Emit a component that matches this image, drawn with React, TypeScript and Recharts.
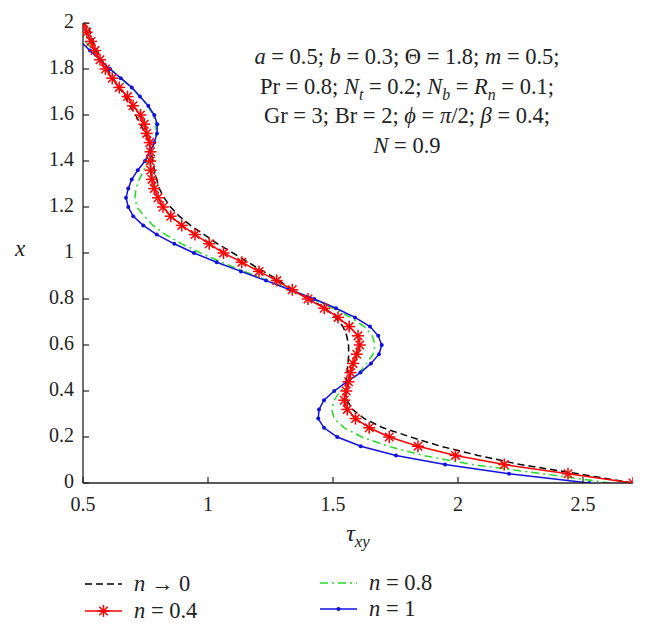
import React from "react";
import { LineChart, Line, XAxis, YAxis } from "recharts";

// vertical coordinate x (0 .. 2), one point every 0.04
const xLevels = [
  0, 0.04, 0.08, 0.12, 0.16, 0.2, 0.24, 0.28, 0.32, 0.36, 0.4, 0.44, 0.48,
  0.52, 0.56, 0.6, 0.64, 0.68, 0.72, 0.76, 0.8, 0.84, 0.88, 0.92, 0.96, 1,
  1.04, 1.08, 1.12, 1.16, 1.2, 1.24, 1.28, 1.32, 1.36, 1.4, 1.44, 1.48, 1.52,
  1.56, 1.6, 1.64, 1.68, 1.72, 1.76, 1.8, 1.84, 1.88, 1.92, 1.96, 2,
];

// tau_xy for each n
const tauN0 = [
  2.7, 2.48, 2.25, 2.08, 1.93, 1.81, 1.7, 1.625, 1.578, 1.556, 1.55, 1.553,
  1.556, 1.56, 1.563, 1.562, 1.555, 1.54, 1.51, 1.47, 1.405, 1.335, 1.285,
  1.222, 1.16, 1.1, 1.038, 0.985, 0.93, 0.885, 0.85, 0.825, 0.805, 0.795,
  0.785, 0.78, 0.772, 0.762, 0.748, 0.73, 0.71, 0.688, 0.668, 0.645, 0.62,
  0.597, 0.575, 0.556, 0.54, 0.528, 0.52,
];
const tauN04 = [
  2.7, 2.44, 2.185, 1.99, 1.84, 1.725, 1.645, 1.59, 1.557, 1.545, 1.553,
  1.562, 1.57, 1.58, 1.595, 1.607, 1.6, 1.565, 1.52, 1.465, 1.4, 1.337,
  1.275, 1.204, 1.135, 1.062, 1.005, 0.948, 0.895, 0.851, 0.82, 0.8, 0.785,
  0.776, 0.771, 0.769, 0.77, 0.767, 0.755, 0.745, 0.73, 0.7, 0.678, 0.645,
  0.617, 0.59, 0.568, 0.548, 0.532, 0.515, 0.503,
];
const tauN08 = [
  2.61, 2.34, 2.06, 1.86, 1.72, 1.615, 1.545, 1.505, 1.495, 1.505, 1.53,
  1.565, 1.605, 1.635, 1.66, 1.668, 1.657, 1.625, 1.57, 1.5, 1.42, 1.33,
  1.24, 1.145, 1.055, 0.97, 0.895, 0.83, 0.78, 0.745, 0.715, 0.708, 0.712,
  0.725, 0.743, 0.76, 0.775, 0.785, 0.792, 0.792, 0.78, 0.758, 0.726, 0.693,
  0.65, 0.61, 0.57, 0.54, 0.51, 0.49, 0.47,
];
const tauN1 = [
  2.525, 2.204, 1.948, 1.752, 1.611, 1.517, 1.464, 1.441, 1.444, 1.464,
  1.505, 1.555, 1.61, 1.652, 1.684, 1.695, 1.681, 1.648, 1.588, 1.512, 1.425,
  1.328, 1.232, 1.132, 1.035, 0.944, 0.865, 0.795, 0.741, 0.701, 0.681,
  0.672, 0.681, 0.695, 0.719, 0.748, 0.768, 0.785, 0.796, 0.797, 0.785,
  0.761, 0.728, 0.695, 0.651, 0.608, 0.568, 0.528, 0.49, 0.455, 0.42,
];

const tauTicks = [0.5, 1, 1.5, 2, 2.5];
const xTicks = [0, 0.2, 0.4, 0.6, 0.8, 1, 1.2, 1.4, 1.6, 1.8, 2];

const FONT = "'Liberation Serif', 'Times New Roman', serif";
const AXIS = "#222";

const toPoints = (taus: number[]) => taus.map((t, i) => ({ tau: t, x: xLevels[i] }));

const StarDot = (props: any) => {
  const { cx, cy, index } = props;
  if (cx == null || cy == null) return <g key={index} />;
  const r = 6;
  const d = r * 0.707;
  return (
    <g key={index} stroke="#ff0000" strokeWidth={1.5}>
      <line x1={cx - r} y1={cy} x2={cx + r} y2={cy} />
      <line x1={cx} y1={cy - r} x2={cx} y2={cy + r} />
      <line x1={cx - d} y1={cy - d} x2={cx + d} y2={cy + d} />
      <line x1={cx - d} y1={cy + d} x2={cx + d} y2={cy - d} />
    </g>
  );
};

const BlueDot = (props: any) => {
  const { cx, cy, index } = props;
  if (cx == null || cy == null) return <g key={index} />;
  return <circle key={index} cx={cx} cy={cy} r={2} fill="#1010e0" stroke="none" />;
};

const series = [
  { key: "n0", data: toPoints(tauN0), color: "#000000", dash: "7 4", dot: false as any, label: <><i>n</i> → 0</> },
  { key: "n08", data: toPoints(tauN08), color: "#22dd22", dash: "8 4 2 4", dot: false as any, label: <><i>n</i> = 0.8</> },
  { key: "n1", data: toPoints(tauN1), color: "#1010e0", dash: undefined, dot: BlueDot as any, label: <><i>n</i> = 1</> },
  { key: "n04", data: toPoints(tauN04), color: "#ff0000", dash: undefined, dot: StarDot as any, label: <><i>n</i> = 0.4</> },
];

const BottomTick = ({ x, y, payload }: any) => (
  <g>
    <line x1={x} x2={x} y1={y} y2={y - 6} stroke={AXIS} strokeWidth={1.2} />
    <text x={x} y={y + 27.5} textAnchor="middle" fontFamily={FONT} fontSize={20} fill="#222">
      {payload.value}
    </text>
  </g>
);
const TopTick = ({ x, y }: any) => (
  <line x1={x} x2={x} y1={y} y2={y + 6} stroke={AXIS} strokeWidth={1.2} />
);
const LeftTick = ({ x, y, payload }: any) => (
  <g>
    <line x1={x} x2={x + 6} y1={y} y2={y} stroke={AXIS} strokeWidth={1.2} />
    <text x={x - 9} y={y + 5} textAnchor="end" fontFamily={FONT} fontSize={20} fill="#222">
      {payload.value}
    </text>
  </g>
);
const RightTick = ({ x, y }: any) => (
  <line x1={x} x2={x - 6} y1={y} y2={y} stroke={AXIS} strokeWidth={1.2} />
);

const Swatch = ({ s }: any) => (
  <svg width={38} height={10} style={{ overflow: "visible", marginRight: 11 }}>
    <line x1={0} x2={37} y1={5} y2={5} stroke={s.color} strokeWidth={1.5} strokeDasharray={s.dash} />
    {s.key === "n04" && <StarDot cx={18.5} cy={5} index={0} />}
    {s.key === "n1" && <BlueDot cx={18.5} cy={5} index={0} />}
  </svg>
);

const legendPos: Record<string, { left: number; top: number }> = {
  n0: { left: 85, top: 571 },
  n04: { left: 85, top: 598 },
  n08: { left: 320, top: 570 },
  n1: { left: 320, top: 596 },
};

const subStyle: React.CSSProperties = { fontSize: "0.7em", verticalAlign: "-0.35em", lineHeight: 0 };

export default function App() {
  return (
    <div style={{ position: "relative", width: 647, height: 630, background: "#fff", overflow: "hidden", fontFamily: FONT, color: "#222" }}>
      <style>{`body{margin:0}`}</style>
      <LineChart width={647} height={630} margin={{ top: 23, right: 14, bottom: 117, left: 23 }}>
        <XAxis xAxisId="b" type="number" dataKey="tau" domain={[0.5, 2.7]} allowDataOverflow ticks={tauTicks}
          height={30} tickSize={0} tickMargin={0} tick={<BottomTick />} axisLine={{ stroke: AXIS, strokeWidth: 1.3 }} tickLine={false} />
        <XAxis xAxisId="t" orientation="top" type="number" dataKey="tau" domain={[0.5, 2.7]} allowDataOverflow ticks={tauTicks}
          height={0} tickSize={0} tickMargin={0} tick={<TopTick />} axisLine={{ stroke: AXIS, strokeWidth: 1.3 }} tickLine={false} />
        <YAxis yAxisId="l" type="number" domain={[0, 2]} allowDataOverflow ticks={xTicks}
          width={60} tickSize={0} tickMargin={0} tick={<LeftTick />} axisLine={{ stroke: AXIS, strokeWidth: 1.3 }} tickLine={false} />
        <YAxis yAxisId="r" orientation="right" type="number" domain={[0, 2]} allowDataOverflow ticks={xTicks}
          width={0} tickSize={0} tickMargin={0} tick={<RightTick />} axisLine={{ stroke: AXIS, strokeWidth: 1.3 }} tickLine={false} />
        {series.map((s) => (
          <Line key={s.key} xAxisId="b" yAxisId="l" data={s.data} dataKey="x" type="linear"
            stroke={s.color} strokeWidth={1.5} strokeDasharray={s.dash} dot={s.dot} activeDot={false}
            isAnimationActive={false} />
        ))}
      </LineChart>

      {/* parameter block */}
      <div style={{ position: "absolute", left: 157, top: 42, width: 500, textAlign: "center", fontSize: 22.5, lineHeight: "29.5px" }}>
        <div><i>a</i> = 0.5; <i>b</i> = 0.3; Θ = 1.8; <i>m</i> = 0.5;</div>
        <div>Pr = 0.8; <i>N</i><sub style={subStyle}><i>t</i></sub> = 0.2; <i>N</i><sub style={subStyle}><i>b</i></sub> = <i>R</i><sub style={subStyle}><i>n</i></sub> = 0.1;</div>
        <div>Gr = 3; Br = 2; <i>ϕ</i> = <i>π</i>/2; <i>β</i> = 0.4;</div>
        <div><i>N</i> = 0.9</div>
      </div>

      {/* axis titles */}
      <div style={{ position: "absolute", left: 0, width: 40, top: 236, textAlign: "center", fontSize: 23, fontStyle: "italic" }}>x</div>
      <div style={{ position: "absolute", left: 308, width: 100, top: 520, textAlign: "center", fontSize: 24, fontStyle: "italic" }}>
        τ<sub style={subStyle}>xy</sub>
      </div>

      {/* legend */}
      {series.map((s) => (
        <div key={s.key} style={{ position: "absolute", left: legendPos[s.key].left, top: legendPos[s.key].top, display: "flex", alignItems: "center", fontSize: 22.5, lineHeight: "26px", whiteSpace: "nowrap" }}>
          <Swatch s={s} />
          <span>{s.label}</span>
        </div>
      ))}
    </div>
  );
}
